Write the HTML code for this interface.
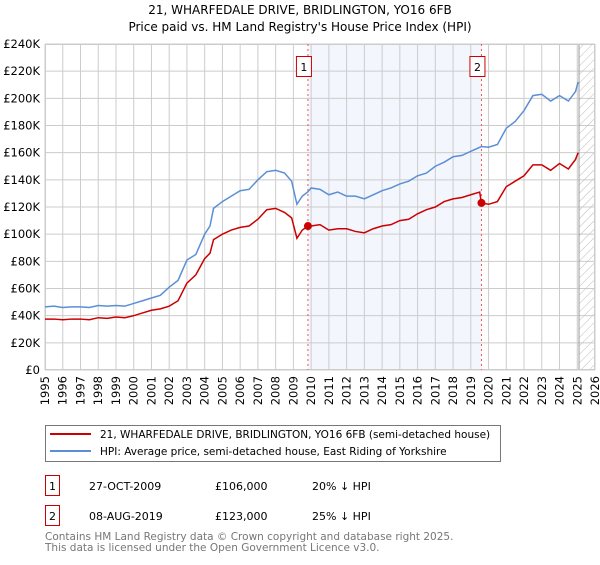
<!DOCTYPE html>
<html><head><meta charset="utf-8"><style>
body{margin:0;background:#fff;width:600px;height:560px;overflow:hidden}
svg{font-family:"DejaVu Sans","Liberation Sans",sans-serif}
</style></head><body>
<svg id="chart" width="600" height="560">
<text x="300" y="14" text-anchor="middle" font-size="12">21, WHARFEDALE DRIVE, BRIDLINGTON, YO16 6FB</text>
<text x="300" y="31" text-anchor="middle" font-size="12">Price paid vs. HM Land Registry's House Price Index (HPI)</text>
<g id="plot"></g>
<g>
<rect x="45.5" y="425.5" width="455" height="36" fill="#fff" stroke="#777"/>
<line x1="50" y1="434" x2="91" y2="434" stroke="#cc0000" stroke-width="2"/>
<text x="100" y="438" font-size="10.5">21, WHARFEDALE DRIVE, BRIDLINGTON, YO16 6FB (semi-detached house)</text>
<line x1="50" y1="451" x2="91" y2="451" stroke="#5b8fd4" stroke-width="2"/>
<text x="100" y="455" font-size="10.5">HPI: Average price, semi-detached house, East Riding of Yorkshire</text>
</g>
<g font-size="11">
<rect x="45.5" y="475.5" width="14" height="20" fill="#fff" stroke="#cc0000"/>
<text x="52.5" y="490" text-anchor="middle">1</text>
<text x="89" y="490">27-OCT-2009</text><text x="215" y="490">£106,000</text><text x="312" y="490">20% ↓ HPI</text>
<rect x="45.5" y="505.5" width="14" height="20" fill="#fff" stroke="#cc0000"/>
<text x="52.5" y="520" text-anchor="middle">2</text>
<text x="89" y="520">08-AUG-2019</text><text x="215" y="520">£123,000</text><text x="312" y="520">25% ↓ HPI</text>
</g>
<text x="45" y="540" font-size="10.5" fill="#777">Contains HM Land Registry data © Crown copyright and database right 2025.</text>
<text x="45" y="551" font-size="10.5" fill="#777">This data is licensed under the Open Government Licence v3.0.</text>
</svg>
<script>
const hpiYears=[1995,1995.5,1996,1996.5,1997,1997.5,1998,1998.5,1999,1999.5,2000,2000.5,2001,2001.5,2002,2002.5,2003,2003.5,2004,2004.3,2004.5,2005,2005.5,2006,2006.5,2007,2007.5,2008,2008.5,2008.9,2009.2,2009.5,2009.8,2010,2010.5,2011,2011.5,2012,2012.5,2013,2013.5,2014,2014.5,2015,2015.5,2016,2016.5,2017,2017.5,2018,2018.5,2019,2019.6,2020,2020.5,2021,2021.5,2022,2022.5,2023,2023.5,2024,2024.5,2024.9,2025.05];
const hpiValues=[46.5,47,46,46.5,46.5,46,47.5,47,47.5,47,49,51,53,55,61,66,81,85,100,106,119,124,128,132,133,140,146,147,145,139,122,128,131,134,133,129,131,128,128,126,129,132,134,137,139,143,145,150,153,157,158,161,164.5,164,166,178,183,191,202,203,198,202,198,205,212];
const ppYears=[1995,1995.5,1996,1996.5,1997,1997.5,1998,1998.5,1999,1999.5,2000,2000.5,2001,2001.5,2002,2002.5,2003,2003.5,2004,2004.3,2004.5,2005,2005.5,2006,2006.5,2007,2007.5,2008,2008.5,2008.9,2009.2,2009.5,2009.82,2010,2010.5,2011,2011.5,2012,2012.5,2013,2013.5,2014,2014.5,2015,2015.5,2016,2016.5,2017,2017.5,2018,2018.5,2019,2019.5,2019.6,2020,2020.5,2021,2021.5,2022,2022.5,2023,2023.5,2024,2024.5,2024.9,2025.05];
const ppValues=[37.5,37.5,37,37.5,37.5,37,38.5,38,39,38.5,40,42,44,45,47,51,64,70,82,86,96,100,103,105,106,111,118,119,116,112,97,103,106,106,107,103,104,104,102,101,104,106,107,110,111,115,118,120,124,126,127,129,131,123,122,124,135,139,143,151,151,147,152,148,155,160];
const sales=[{t:2009.82,v:106},{t:2019.6,v:123}];
const yTicks=[0,20,40,60,80,100,120,140,160,180,200,220,240];
const xTicks=[1995,1996,1997,1998,1999,2000,2001,2002,2003,2004,2005,2006,2007,2008,2009,2010,2011,2012,2013,2014,2015,2016,2017,2018,2019,2020,2021,2022,2023,2024,2025,2026];
const X0=45,X1=595,Y0=370,Y1=44;
const x=t=>X0+(t-1995)/(2026-1995)*(X1-X0);
const y=v=>Y0-v/240*(Y0-Y1);
const NS="http://www.w3.org/2000/svg";
const g=document.getElementById('plot');
function mk(tag,attrs){const e=document.createElementNS(NS,tag);for(const k in attrs)e.setAttribute(k,attrs[k]);g.appendChild(e);return e;}
let e;
e=mk('rect',{x:x(2009.82),y:Y1,width:x(2019.6)-x(2009.82),height:Y0-Y1,fill:'#f3f6fd'});


xTicks.forEach(t=>{e=mk('line',{x1:x(t),x2:x(t),y1:Y1,y2:Y0,stroke:'#cccccc'});


e=mk('text',{x:0,y:0,'font-size':11.5,'text-anchor':'end',transform:`translate(${x(t)+4},${Y0+6}) rotate(-90)`});e.textContent=t;

});
yTicks.forEach(v=>{e=mk('line',{x1:X0,x2:X1,y1:y(v),y2:y(v),stroke:'#cccccc'});


e=mk('text',{x:X0-5,y:y(v)+4,'font-size':11.5,'text-anchor':'end'});e.textContent=v===0?'£0':'£'+v+'K';

});
const defs=mk('defs',{});defs.innerHTML='<pattern id="h" width="6" height="6" patternUnits="userSpaceOnUse" patternTransform="rotate(45)"><line x1="0" y1="0" x2="0" y2="6" stroke="#bbb" stroke-width="1"/></pattern>';
e=mk('rect',{x:x(2025.1),y:Y1,width:X1-x(2025.1),height:Y0-Y1,fill:'url(#h)'});


e=mk('line',{x1:x(2025.1),x2:x(2025.1),y1:Y1,y2:Y0,stroke:'#999'});


e=mk('rect',{x:X0+0.5,y:Y1+0.5,width:X1-X0-1,height:Y0-Y1-1,fill:'none',stroke:'#cccccc'});


sales.forEach((s,i)=>{e=mk('line',{x1:x(s.t),x2:x(s.t),y1:Y1,y2:Y0,stroke:'#ee5555','stroke-dasharray':'2,3'});

});
e=mk('polyline',{points:hpiYears.map((t,i)=>x(t)+','+y(hpiValues[i])).join(' '),fill:'none',stroke:'#5b8fd4','stroke-width':1.5});


e=mk('polyline',{points:ppYears.map((t,i)=>x(t)+','+y(ppValues[i])).join(' '),fill:'none',stroke:'#cc0000','stroke-width':1.5});


sales.forEach((s,i)=>{e=mk('circle',{cx:x(s.t),cy:y(s.v),r:4,fill:'#cc0000'});


e=mk('rect',{x:x(s.t)-11.5,y:56.5,width:15,height:20,fill:'#fff',stroke:'#cc0000'});


e=mk('text',{x:x(s.t)-4,y:71,'font-size':11,'text-anchor':'middle'});e.textContent=i+1;

});
</script>
</body></html>
